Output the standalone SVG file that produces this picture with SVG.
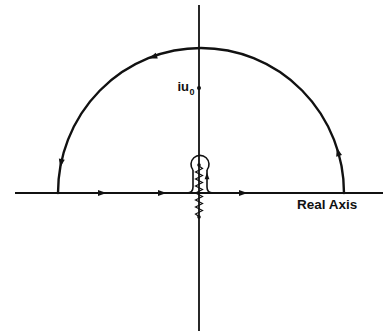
<svg xmlns="http://www.w3.org/2000/svg" width="385" height="331" viewBox="0 0 385 331">
<style>
.ax{stroke:#111;stroke-width:1.8;fill:none}
.ct{stroke:#111;stroke-width:2.4;fill:none;stroke-linecap:round}
.kh{stroke:#111;stroke-width:1.6;fill:none}
.zz{stroke:#111;stroke-width:1.2;fill:none}
.lbl{font-family:"Liberation Sans",Arial,sans-serif;font-weight:bold;fill:#111}
.dot{fill:#111}
</style>
<defs>
<path id="ah" d="M4.5 0 L-4 -3 L-4 3 Z" fill="#111"/>
</defs>
<g id="axes">
<line class="ax" x1="15" y1="193" x2="383" y2="193"/>
<line class="ax" x1="199" y1="5" x2="199" y2="331"/>
</g>
<g id="connectors">
<path class="ct" d="M58 193 A143 145 0 0 1 344 193"/>
<use href="#ah" transform="translate(153,57) rotate(160)"/>
<use href="#ah" transform="translate(61,163) rotate(102)"/>
<use href="#ah" transform="translate(338,152) rotate(254)"/>
<use href="#ah" transform="translate(102,193)"/>
<use href="#ah" transform="translate(162,193)"/>
<use href="#ah" transform="translate(243,193)"/>
</g>
<g id="keyhole">
<path class="kh" d="M193 170 A9 9 0 1 1 207 170"/>
<path class="kh" d="M193 170 L193 187 Q193 193 187 193"/>
<path class="kh" d="M207 170 L207 187 Q207 193 213 193"/>
<use href="#ah" transform="translate(207,176) rotate(-90) scale(0.8)"/>
<polyline class="zz" points="199,166 202.5,168.5 195.5,172 202.5,175.5 195.5,179 202.5,182.5 195.5,186 202.5,189.5 195.5,193 202.5,196.5 195.5,200 202.5,203.5 195.5,207 202.5,210.5 195.5,214 199,216.5"/>
<circle class="dot" cx="199" cy="165" r="1.8"/>
<circle class="dot" cx="199" cy="217" r="1.8"/>
</g>
<g id="point-iu0">
<circle class="dot" cx="199" cy="88" r="2"/>
<text class="lbl" x="189" y="91" font-size="13" text-anchor="end">iu</text>
<text class="lbl" x="189.5" y="95" font-size="9">0</text>
</g>
<g id="label-real-axis">
<text class="lbl" x="297" y="209" font-size="13.5">Real Axis</text>
</g>
</svg>
